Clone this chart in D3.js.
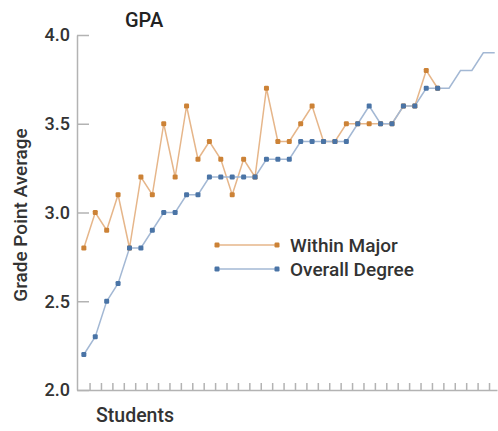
<!DOCTYPE html>
<html>
<head>
<meta charset="utf-8">
<script src="https://cdn.jsdelivr.net/npm/d3@7"></script>
<style>
  html, body { margin: 0; padding: 0; background: #fff; }
  svg { display: block; font-family: Roboto, "DejaVu Sans", sans-serif; }
</style>
</head>
<body>
<svg id="chart" width="498" height="431"></svg>
<script>
const seriesNames = ["Within Major", "Overall Degree"];
const withinMajor = [2.8, 3.0, 2.9, 3.1, 2.8, 3.2, 3.1, 3.5, 3.2, 3.6, 3.3, 3.4, 3.3, 3.1, 3.3, 3.2,
  3.7, 3.4, 3.4, 3.5, 3.6, 3.4, 3.4, 3.5, 3.5, 3.5, 3.5, 3.5, 3.6, 3.6, 3.8, 3.7];
const overallDegree = [2.2, 2.3, 2.5, 2.6, 2.8, 2.8, 2.9, 3.0, 3.0, 3.1, 3.1, 3.2, 3.2, 3.2, 3.2, 3.2,
  3.3, 3.3, 3.3, 3.4, 3.4, 3.4, 3.4, 3.4, 3.5, 3.6, 3.5, 3.5, 3.6, 3.6, 3.7, 3.7,
  3.7, 3.8, 3.8, 3.9, 3.9];
const markedCount = 32;               // points with markers
const yTicks = [2.0, 2.5, 3.0, 3.5, 4.0];
const studentTicks = d3.range(0.5, 36, 1);

const svg = d3.select("#chart");
const x = d3.scaleLinear().domain([-0.6, 36.2]).range([77, 497]);
const y = d3.scaleLinear().domain([2, 4]).range([390, 35]);

const axisColor = "#b3b3b3";
const textColor = "#333";
const orange = "#cc8236", orangeLine = "#e6b68a";
const blue = "#4a74a6", blueLine = "#a3b8d4";

// Y axis
const yAxis = svg.append("g").attr("transform", `translate(${x.range()[0]},0)`)
  .call(d3.axisLeft(y).tickValues(yTicks).tickFormat(d3.format(".1f"))
    .tickSizeInner(-12).tickSizeOuter(0).tickPadding(7));
yAxis.selectAll("path, line").attr("stroke", axisColor).attr("stroke-width", 1.5);
yAxis.selectAll("text").attr("fill", textColor).attr("font-size", 18)
  .attr("font-family", "Roboto, sans-serif").attr("font-weight", 500);

// X axis
const xAxis = svg.append("g").attr("transform", `translate(0,${y.range()[0]})`)
  .call(d3.axisBottom(x).tickValues(studentTicks).tickFormat("")
    .tickSizeInner(-7).tickSizeOuter(0));
xAxis.selectAll("path, line").attr("stroke", axisColor).attr("stroke-width", 1.5);

// Lines
const line = d3.line().x((d, i) => x(i)).y(d => y(d));
svg.append("path").datum(withinMajor).attr("d", line)
  .attr("fill", "none").attr("stroke", orangeLine).attr("stroke-width", 1.5);
svg.append("path").datum(overallDegree).attr("d", line)
  .attr("fill", "none").attr("stroke", blueLine).attr("stroke-width", 1.5);

// Markers
const ms = 5;
function markers(data, color) {
  svg.append("g").selectAll("rect").data(data.slice(0, markedCount)).join("rect")
    .attr("x", (d, i) => x(i) - ms / 2).attr("y", d => y(d) - ms / 2)
    .attr("width", ms).attr("height", ms).attr("rx", 1.2)
    .attr("fill", color);
}
markers(withinMajor, orange);
markers(overallDegree, blue);

// Title
svg.append("text").attr("x", 125).attr("y", 27).text("GPA")
  .attr("fill", "#222").attr("font-size", 20).attr("font-weight", 500);

// Axis titles
svg.append("text").attr("x", 96).attr("y", 422).text("Students")
  .attr("fill", textColor).attr("font-size", 19.5).attr("font-weight", 500);
svg.append("text").attr("transform", "translate(27,215) rotate(-90)")
  .attr("text-anchor", "middle").text("Grade Point Average")
  .attr("fill", textColor).attr("font-size", 19).attr("font-weight", 500);

// Legend
const legend = [
  { name: seriesNames[0], color: orange, lineColor: orangeLine, yv: 245 },
  { name: seriesNames[1], color: blue, lineColor: blueLine, yv: 269 }
];
const lg = svg.append("g");
legend.forEach(l => {
  lg.append("line").attr("x1", 217).attr("x2", 277).attr("y1", l.yv).attr("y2", l.yv)
    .attr("stroke", l.lineColor).attr("stroke-width", 1.5);
  [217, 277].forEach(cx => lg.append("rect").attr("x", cx - ms / 2).attr("y", l.yv - ms / 2)
    .attr("width", ms).attr("height", ms).attr("rx", 1.2).attr("fill", l.color));
  lg.append("text").attr("x", 290).attr("y", l.yv + 6.5).text(l.name)
    .attr("fill", textColor).attr("font-size", 19).attr("font-weight", 500);
});
</script>
</body>
</html>
